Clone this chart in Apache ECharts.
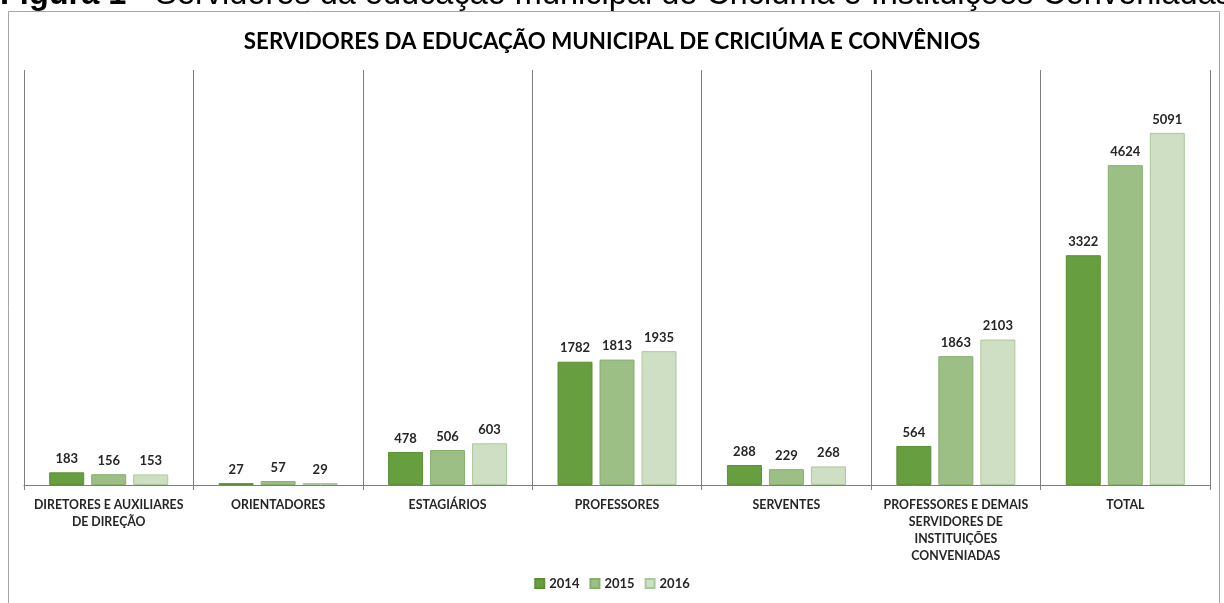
<!DOCTYPE html>
<html>
<head>
<meta charset="utf-8">
<script src="https://cdn.jsdelivr.net/npm/echarts@6/dist/echarts.min.js"></script>
<style>
  html, body { margin: 0; padding: 0; background: #fff; }
  #chart { width: 1224px; height: 603px; }
</style>
</head>
<body>
<div id="chart"></div>
<script>
var categories = [
  'DIRETORES E AUXILIARES\nDE DIREÇÃO',
  'ORIENTADORES',
  'ESTAGIÁRIOS',
  'PROFESSORES',
  'SERVENTES',
  'PROFESSORES E DEMAIS\nSERVIDORES DE\nINSTITUIÇÕES\nCONVENIADAS',
  'TOTAL'
];
var years = ['2014', '2015', '2016'];
var v2014 = [183, 27, 478, 1782, 288, 564, 3322];
var v2015 = [156, 57, 506, 1813, 229, 1863, 4624];
var v2016 = [153, 29, 603, 1935, 268, 2103, 5091];

var chart = echarts.init(document.getElementById('chart'));
var fills = ['#669e40', '#9bbf85', '#cedfc4'];
var borders = ['#5a8f37', '#86b06e', '#a9c99a'];
var values = [v2014, v2015, v2016];

var series = years.map(function (y, i) {
  return {
    name: y,
    type: 'bar',
    data: values[i],
    barWidth: 35,
    barGap: '20%',
    itemStyle: { color: fills[i], borderColor: borders[i], borderWidth: 1 },
    label: {
      show: true,
      position: 'top',
      distance: 7,
      fontFamily: 'Lato',
      fontWeight: 'bold',
      fontSize: 13,
      color: '#262626'
    }
  };
});

var option = {
  backgroundColor: '#ffffff',
  animation: false,
  graphic: [
    {
      type: 'rect',
      shape: { x: 8.5, y: 11.5, width: 1211, height: 600 },
      style: { fill: 'none', stroke: '#a6a6a6', lineWidth: 1 }
    },
    {
      type: 'text',
      left: 0,
      top: -21,
      style: {
        text: '{b|Figura 1} - Servidores da educação municipal de Criciúma e Instituições Conveniadas',
        rich: {
          b: { fontFamily: 'Liberation Sans', fontWeight: 'bold', fontSize: 32.5, fill: '#000' }
        },
        fontFamily: 'Liberation Sans',
        fontSize: 32.5,
        fill: '#000'
      }
    }
  ],
  title: {
    text: 'SERVIDORES DA EDUCAÇÃO MUNICIPAL DE CRICIÚMA E CONVÊNIOS',
    left: 'center',
    top: 26,
    textStyle: { fontFamily: 'Lato', fontWeight: 'bold', fontSize: 22.3, color: '#000' }
  },
  legend: {
    data: years,
    bottom: 8,
    left: 'center',
    itemWidth: 9,
    itemHeight: 9,
    itemGap: 10,
    icon: 'rect',
    textStyle: { fontFamily: 'Lato', fontWeight: 'bold', fontSize: 13, color: '#262626' }
  },
  grid: { left: 24, right: 14, top: 70, bottom: 118 },
  xAxis: {
    type: 'category',
    data: categories,
    axisLine: { lineStyle: { color: '#7f7f7f', width: 1 } },
    axisTick: { show: true, length: 5, lineStyle: { color: '#7f7f7f' } },
    splitLine: { show: true, lineStyle: { color: '#7f7f7f', width: 1 } },
    axisLabel: {
      interval: 0,
      margin: 12,
      fontFamily: 'Lato',
      fontWeight: 'bold',
      fontSize: 12.3,
      lineHeight: 17,
      color: '#262626'
    }
  },
  yAxis: {
    type: 'value',
    min: 0,
    max: 6000,
    interval: 1000,
    show: false,
    splitLine: { show: false }
  },
  series: series
};
chart.setOption(option);
</script>
</body>
</html>
